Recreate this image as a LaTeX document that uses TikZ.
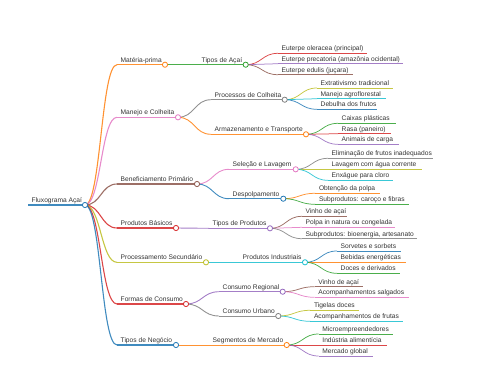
\documentclass[tikz,border=0pt]{standalone}
\usepackage{fontspec}
\setmainfont{Liberation Sans}
\usetikzlibrary{calc}
\definecolor{cblue}{HTML}{1F77B4}
\definecolor{corange}{HTML}{FF7F0E}
\definecolor{cgreen}{HTML}{2CA02C}
\definecolor{cred}{HTML}{D62728}
\definecolor{cpurple}{HTML}{9467BD}
\definecolor{cbrown}{HTML}{8C564B}
\definecolor{cpink}{HTML}{E377C2}
\definecolor{cgrey}{HTML}{7F7F7F}
\definecolor{colive}{HTML}{BCBD22}
\definecolor{ccyan}{HTML}{17BECF}
\definecolor{ctext}{HTML}{333333}
\tikzset{
  txt/.style={anchor=base west, inner sep=0pt, text=ctext, font=\fontsize{6.65}{8}\selectfont},
  dot/.style={fill=white, line width=0.8pt},
  lnk/.style={draw opacity=0.85},
}
% name, x1, x2, y, colour, width, text
\newcommand\mmn[7]{%
  \coordinate (#1-s) at (#2,#4);
  \coordinate (#1-e) at (#3,#4);
  \draw[#5, lnk, line width=#6] (#1-s) -- (#1-e);
  \node[txt] (#1) at ([shift={(3.5,-2.6)}]#1-s) {#7};
}
% colour, width, from, to
\newcommand\mml[4]{%
  \path (#3-e) coordinate (lkA) (#4-s) coordinate (lkB);
  \draw[#1, lnk, line width=#2] let \p1=(lkA), \p2=(lkB) in
    (\p1) .. controls ({(\x1+\x2)/2},\y1) and ({(\x1+\x2)/2},\y2) .. (\p2);
}
\newcommand\mmc[2]{\draw[#2, dot] (#1-e) circle (2.6);}
\begin{document}
\begin{tikzpicture}[x=1pt,y=-1pt]
\useasboundingbox (0,0) rectangle (480,384);
% root
\mmn{root}{28}{85}{205}{cblue}{1.5pt}{Fluxograma Açaí}
% level 1
\mmn{mp}{117}{165}{64.7}{corange}{1.1pt}{Matéria-prima}
\mmn{mc}{117}{178}{117.3}{cpink}{1.1pt}{Manejo e Colheita}
\mmn{bp}{117}{197}{184}{cbrown}{1.1pt}{Beneficiamento Primário}
\mmn{pb}{117}{176}{228}{cred}{1.1pt}{Produtos Básicos}
\mmn{ps}{117}{206}{262.3}{colive}{1.1pt}{Processamento Secundário}
\mmn{fc}{117}{186}{304}{cred}{1.1pt}{Formas de Consumo}
\mmn{tn}{117}{176}{345}{cblue}{1.1pt}{Tipos de Negócio}
\foreach \ch/\cc in {mp/corange,mc/cpink,bp/cbrown,pb/cred,ps/colive,fc/cred,tn/cblue}{\mml{\cc}{1.1pt}{root}{\ch}}
% level 2
\mmn{ta}{198}{245.7}{64.7}{cgreen}{0.9pt}{Tipos de Açaí}
\mmn{pc}{211}{284.7}{99.7}{cgrey}{0.9pt}{Processos de Colheita}
\mmn{at}{211}{306}{134.3}{corange}{0.9pt}{Armazenamento e Transporte}
\mmn{sl}{229}{295.7}{169.3}{cpink}{0.9pt}{Seleção e Lavagem}
\mmn{dp}{229}{283.3}{198.7}{cblue}{0.9pt}{Despolpamento}
\mmn{tp}{209}{270}{228.3}{cpurple}{0.9pt}{Tipos de Produtos}
\mmn{pi}{239}{305}{262.3}{ccyan}{0.9pt}{Produtos Industriais}
\mmn{cr}{219}{282.7}{291.7}{cpurple}{0.9pt}{Consumo Regional}
\mmn{cu}{219}{278.3}{316}{cgrey}{0.9pt}{Consumo Urbano}
\mmn{sm}{209}{286.7}{345}{corange}{0.9pt}{Segmentos de Mercado}
\foreach \pa/\ch/\cc in {mp/ta/cgreen,mc/pc/cgrey,mc/at/corange,bp/sl/cpink,bp/dp/cblue,pb/tp/cpurple,ps/pi/ccyan,fc/cr/cpurple,fc/cu/cgrey,tn/sm/corange}{\mml{\cc}{0.9pt}{\pa}{\ch}}
% leaves
\mmn{eo}{278}{366.7}{53.3}{cred}{0.75pt}{Euterpe oleracea (principal)}
\mmn{ep}{278}{403}{63.7}{cpurple}{0.75pt}{Euterpe precatoria (amazônia ocidental)}
\mmn{ee}{278}{352.7}{74.7}{cbrown}{0.75pt}{Euterpe edulis (juçara)}
\mmn{et}{317}{393}{88}{colive}{0.75pt}{Extrativismo tradicional}
\mmn{ma}{317}{385.7}{98.7}{ccyan}{0.75pt}{Manejo agroflorestal}
\mmn{df}{317}{377.3}{109.3}{cblue}{0.75pt}{Debulha dos frutos}
\mmn{cx}{338}{395.7}{123.3}{cgreen}{0.75pt}{Caixas plásticas}
\mmn{ra}{338}{390.7}{133.7}{cred}{0.75pt}{Rasa (paneiro)}
\mmn{ac}{338}{399.3}{144.3}{cpurple}{0.75pt}{Animais de carga}
\mmn{el}{328}{433.3}{158.3}{cgrey}{0.75pt}{Eliminação de frutos inadequados}
\mmn{la}{328}{421.7}{169.3}{colive}{0.75pt}{Lavagem com água corrente}
\mmn{en}{328}{393.3}{180.3}{ccyan}{0.75pt}{Enxágue para cloro}
\mmn{ob}{315.3}{380}{193.3}{corange}{0.75pt}{Obtenção da polpa}
\mmn{sc}{315.3}{409}{204.3}{cgreen}{0.75pt}{Subprodutos: caroço e fibras}
\mmn{va}{302}{346.7}{216.3}{cbrown}{0.75pt}{Vinho de açaí}
\mmn{po}{302}{395}{227.3}{cpink}{0.75pt}{Polpa in natura ou congelada}
\mmn{sb}{302}{416.7}{238.7}{cgrey}{0.75pt}{Subprodutos: bioenergia, artesanato}
\mmn{so}{337}{401}{251}{cblue}{0.75pt}{Sorvetes e sorbets}
\mmn{be}{337}{406}{262.3}{corange}{0.75pt}{Bebidas energéticas}
\mmn{dc}{337}{400}{273.3}{cgreen}{0.75pt}{Doces e derivados}
\mmn{vb}{314.7}{363.3}{286.7}{cbrown}{0.75pt}{Vinho de açaí}
\mmn{as}{314.7}{409.3}{297.3}{cpink}{0.75pt}{Acompanhamentos salgados}
\mmn{tg}{310.3}{359.3}{310.3}{colive}{0.75pt}{Tigelas doces}
\mmn{af}{310.3}{403.3}{321.3}{ccyan}{0.75pt}{Acompanhamentos de frutas}
\mmn{mi}{318.7}{393.3}{334}{cgreen}{0.75pt}{Microempreendedores}
\mmn{ia}{318.7}{386.7}{345}{cred}{0.75pt}{Indústria alimentícia}
\mmn{mg}{318.7}{373.3}{356}{cpurple}{0.75pt}{Mercado global}
\foreach \pa/\ch/\cc in {ta/eo/cred,ta/ep/cpurple,ta/ee/cbrown,pc/et/colive,pc/ma/ccyan,pc/df/cblue,at/cx/cgreen,at/ra/cred,at/ac/cpurple,sl/el/cgrey,sl/la/colive,sl/en/ccyan,dp/ob/corange,dp/sc/cgreen,tp/va/cbrown,tp/po/cpink,tp/sb/cgrey,pi/so/cblue,pi/be/corange,pi/dc/cgreen,cr/vb/cbrown,cr/as/cpink,cu/tg/colive,cu/af/ccyan,sm/mi/cgreen,sm/ia/cred,sm/mg/cpurple}{\mml{\cc}{0.75pt}{\pa}{\ch}}
% circles
\foreach \ch/\cc in {root/cblue,mp/corange,mc/cpink,bp/cbrown,pb/cred,ps/colive,fc/cred,tn/cblue,ta/cgreen,pc/cgrey,at/corange,sl/cpink,dp/cblue,tp/cpurple,pi/ccyan,cr/cpurple,cu/cgrey,sm/corange}{\mmc{\ch}{\cc}}
\end{tikzpicture}
\end{document}
